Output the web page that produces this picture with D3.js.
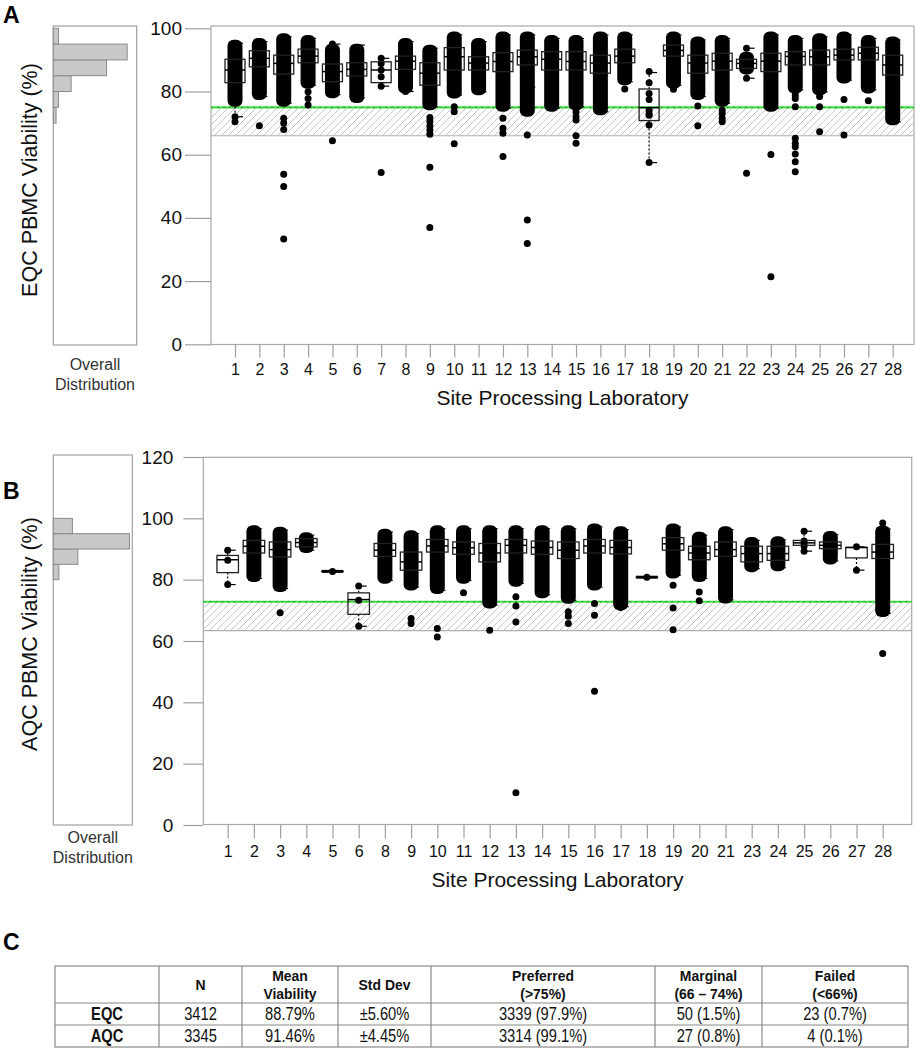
<!DOCTYPE html>
<html><head><meta charset="utf-8">
<script src="https://cdn.jsdelivr.net/npm/d3@7/dist/d3.min.js"></script>
<style>
body{margin:0;background:#fff;}
svg{display:block;font-family:"Liberation Sans",Arial,sans-serif;}
</style>
</head><body>
<svg id="chart" width="916" height="1050"></svg>
<script>
// ---------------- DATA ----------------
const labsA = [1,2,3,4,5,6,7,8,9,10,11,12,13,14,15,16,17,18,19,20,21,22,23,24,25,26,27,28];
// box stats per lab: [q1, median, q3, whiskerLow, whiskerHigh]
const boxA = [
 [82.8,86.8,90.2,72.0,95.3],[87.8,90.5,92.9,78.4,95.8],[85.5,88.9,91.5,76.3,97.3],[89.1,91.2,93.4,82.0,96.8],
 [83.1,86.3,88.7,79.0,95.0],[84.9,87.0,89.1,78.0,94.7],[82.8,86.8,89.4,81.7,90.5],[87.0,89.6,91.2,80.0,95.8],
 [82.0,85.8,89.1,75.2,93.7],[86.8,91.0,93.9,78.9,97.9],[86.8,89.0,91.0,79.9,95.8],[86.3,89.5,92.3,74.7,97.9],
 [88.4,91.0,93.1,81.4,97.9],[86.8,90.2,92.6,74.7,96.8],[86.8,89.5,92.6,75.2,96.8],[85.8,89.0,91.5,73.6,97.9],
 [89.1,91.2,93.4,83.1,97.9],[70.8,74.9,80.8,57.5,86.0],[91.2,93.0,94.7,82.0,97.9],[85.8,89.0,91.5,78.4,96.3],
 [86.8,89.6,92.1,76.3,96.8],[87.3,88.9,90.2,84.2,93.7],[86.3,89.6,92.1,74.7,97.9],[88.4,91.1,92.6,80.5,96.8],
 [88.4,91.0,93.1,79.9,97.3],[90.0,91.5,93.4,83.6,97.9],[90.0,92.1,94.0,80.5,96.8],[85.2,88.4,91.5,70.4,96.3]
];
// dense cloud of overlapping observations per lab: [low, high] (null = only individual points)
const cloudA = [
 [76.3,95.3],[78.4,95.8],[76.3,97.3],[82.0,96.8],[79.0,94.0],[77.5,94.0],null,[80.5,95.8],
 [75.2,93.7],[78.9,97.9],[79.9,95.8],[74.7,97.9],[73.1,97.9],[74.7,96.8],[75.2,96.8],[73.6,97.9],
 [83.1,97.9],null,[82.0,97.9],[78.4,96.3],[76.3,96.8],[86.5,91.5],[74.7,97.9],[80.5,96.8],
 [79.9,97.3],[83.6,97.9],[80.5,96.8],[70.4,96.3]
];
// individual observations outside the dense clouds: [lab, viability]
const pointsA = [
 [1,72.0],[1,70.4],[2,69.2],[3,71.5],[3,70.0],[3,68.0],[3,53.8],[3,49.9],[3,33.3],
 [4,79.9],[4,77.8],[4,75.7],[5,95.0],[5,64.4],
 [7,90.5],[7,88.9],[7,86.8],[7,84.7],[7,81.7],[7,54.4],[8,80.0],
 [9,71.8],[9,70.5],[9,69.1],[9,67.8],[9,66.5],[9,56.0],[9,37.0],
 [10,75.2],[10,73.6],[10,63.5],[12,71.5],[12,68.4],[12,66.8],[12,59.4],
 [13,66.2],[13,39.3],[13,31.9],[15,73.6],[15,72.0],[15,71.0],[15,66.0],[15,63.6],[17,80.8],
 [18,86.3],[18,82.8],[18,79.4],[18,77.5],[18,74.1],[18,72.9],[18,72.5],[18,69.4],[18,57.5],
 [19,80.7],[20,75.4],[20,69.2],[21,74.1],[21,73.0],[21,71.5],[21,70.4],
 [22,93.7],[22,84.2],[22,54.1],[23,60.1],[23,21.4],
 [24,78.9],[24,77.8],[24,75.2],[24,65.2],[24,63.6],[24,62.5],[24,60.2],[24,57.8],[24,54.6],
 [25,78.4],[25,75.2],[25,67.3],[26,77.5],[26,66.2],[27,77.1]
];
const histEdgesA = [70,75,80,85,90,95,100];
const histCountsA = [60,110,385,1150,1595,110];
const refA = {preferred:75, failed:66};
const yTicksA = [0,20,40,60,80,100];

const labsB = [1,2,3,4,5,6,8,9,10,11,12,13,14,15,16,17,18,19,20,21,23,24,25,26,27,28];
const boxB = [
 [82.3,86.5,87.9,78.4,89.6],[88.7,90.9,92.8,80.4,96.6],[87.4,89.8,92.3,77.1,96.1],[90.7,92.1,93.4,89.6,94.5],
 [82.7,82.7,82.7,82.7,82.7],[68.7,73.5,75.7,64.8,77.9],[87.6,89.6,91.8,79.8,95.5],[83.1,85.8,89.0,77.6,95.0],
 [89.0,91.0,93.1,76.5,96.6],[88.3,90.4,92.3,79.8,96.6],[85.8,88.7,91.8,71.7,96.6],[88.7,91.2,93.1,78.8,96.6],
 [88.3,90.5,92.6,75.1,96.6],[86.9,89.6,92.3,73.3,96.6],[88.7,91.0,93.1,77.6,97.2],[88.4,90.5,92.8,71.2,96.3],
 [80.8,80.8,80.8,80.8,80.8],[89.6,91.7,93.7,81.5,97.2],[86.5,88.7,90.9,80.4,94.5],[87.6,89.8,92.3,73.4,96.3],
 [85.8,88.5,90.9,83.6,92.8],[86.3,88.5,90.9,83.9,93.0],[91.2,92.0,92.8,89.3,95.8],[90.1,91.2,92.3,86.1,94.7],
 [87.1,90.5,90.5,83.1,90.7],[86.9,89.0,91.5,69.0,96.5]
];
const cloudB = [
 null,[80.4,96.6],[77.1,96.1],[89.8,94.3],null,null,[79.8,95.5],[77.6,95.0],
 [76.5,96.6],[79.8,96.6],[71.7,96.6],[78.8,96.6],[75.1,96.6],[73.3,96.6],[77.6,97.2],[71.2,96.3],
 null,[81.5,97.2],[80.4,94.5],[73.4,96.3],[83.6,92.8],[83.9,93.0],null,[86.1,94.7],
 null,[69.0,96.5]
];
const pointsB = [
 [1,89.6],[1,86.3],[1,78.4],[3,69.2],[5,82.7],[6,77.9],[6,73.3],[6,64.8],
 [9,67.3],[9,65.7],[10,64.1],[10,61.3],[11,75.7],[12,63.5],
 [13,74.4],[13,71.4],[13,66.2],[13,10.5],[15,69.5],[15,68.1],[15,65.7],
 [16,72.2],[16,68.4],[16,43.6],[17,70.9],[18,80.8],[19,78.2],[19,70.8],[19,63.7],
 [20,76.0],[20,73.1],[25,95.8],[25,92.6],[25,91.8],[25,91.0],[25,89.3],
 [27,90.7],[27,83.1],[28,98.5],[28,55.9]
];
const histEdgesB = [80,85,90,95,100];
const histCountsB = [150,655,2035,510];
const refB = {preferred:72.8, failed:63.4};
const yTicksB = [0,20,40,60,80,100,120];

const tableHeader = ["", "N", "Mean|Viability", "Std Dev", "Preferred|(>75%)", "Marginal|(66 \u2013 74%)", "Failed|(<66%)"];
const tableRows = [
 ["EQC","3412","88.79%","\u00b15.60%","3339 (97.9%)","50 (1.5%)","23 (0.7%)"],
 ["AQC","3345","91.46%","\u00b14.45%","3314 (99.1%)","27 (0.8%)","4 (0.1%)"]
];

// ---------------- DRAWING ----------------
const svg = d3.select("#chart");
const defs = svg.append("defs");
const pat = defs.append("pattern").attr("id","hatch").attr("patternUnits","userSpaceOnUse")
  .attr("width",7).attr("height",7);
pat.append("rect").attr("width",7).attr("height",7).attr("fill","#fff");
pat.append("path").attr("d","M-1,1 l2,-2 M0,7 l7,-7 M6,8 l2,-2")
  .attr("stroke","#b5b5b5").attr("stroke-width",0.8);

function panel(o){
  const g = svg.append("g");
  const x = d3.scalePoint().domain(o.labs).range(o.xRange);
  const y = d3.scaleLinear().domain(o.yDomain).range(o.yRange);
  const [fx0, fy0, fx1, fy1] = o.frame;

  g.append("rect").attr("x",fx0).attr("y",fy0).attr("width",fx1-fx0).attr("height",fy1-fy0)
    .attr("fill","#fff").attr("stroke","#a8a8a8").attr("stroke-width",1.2);

  g.append("rect").attr("x",fx0+1).attr("width",fx1-fx0-2)
    .attr("y",y(o.ref.preferred)).attr("height",y(o.ref.failed)-y(o.ref.preferred))
    .attr("fill","url(#hatch)");
  g.append("line").attr("x1",fx0).attr("x2",fx1).attr("y1",y(o.ref.failed)).attr("y2",y(o.ref.failed))
    .attr("stroke","#b0b0b0").attr("stroke-width",1.2);
  g.append("line").attr("x1",fx0).attr("x2",fx1).attr("y1",y(o.ref.preferred)).attr("y2",y(o.ref.preferred))
    .attr("stroke","#44dd44").attr("stroke-width",2.2);
  g.append("line").attr("x1",fx0).attr("x2",fx1).attr("y1",y(o.ref.preferred)).attr("y2",y(o.ref.preferred))
    .attr("stroke","#1a9a1a").attr("stroke-width",1).attr("stroke-dasharray","2,4");

  const ya = g.append("g").attr("transform",`translate(${fx0},0)`)
    .call(d3.axisLeft(y).tickValues(o.yTicks).tickSize(o.yTickLen).tickPadding(o.yTickPad));
  ya.select(".domain").remove();
  ya.selectAll("line").attr("stroke","#a0a0a0").attr("stroke-width",1.2);
  ya.selectAll("text").attr("font-size",19).attr("fill","#111").attr("font-family","Liberation Sans, Arial, sans-serif");

  const xa = g.append("g").attr("transform",`translate(0,${fy1})`)
    .call(d3.axisBottom(x).tickSize(o.xTickLen).tickPadding(o.xTickPad));
  xa.select(".domain").remove();
  xa.selectAll("line").attr("stroke","#a0a0a0").attr("stroke-width",1.2);
  xa.selectAll("text").attr("font-size",16).attr("fill","#111").attr("font-family","Liberation Sans, Arial, sans-serif");

  g.append("text").attr("x",(fx0+fx1)/2).attr("y",o.xTitleY).attr("text-anchor","middle")
    .attr("font-size",21).attr("fill","#111").text("Site Processing Laboratory");

  const labData = o.labs.map((l,i)=>({lab:l, box:o.box[i], cloud:o.cloud[i]}));
  const cw = 15, pr = 3.5;
  g.selectAll(".cloud").data(labData.filter(d=>d.cloud)).join("rect")
    .attr("x",d=>x(d.lab)-cw/2).attr("width",cw)
    .attr("y",d=>y(d.cloud[1])-pr).attr("height",d=>y(d.cloud[0])-y(d.cloud[1])+2*pr)
    .attr("rx",6).attr("fill","#000");

  const bw = o.boxWidth;
  labData.forEach(d=>{
    const [q1,md,q3,wl,wh] = d.box, cx = x(d.lab);
    g.append("line").attr("x1",cx).attr("x2",cx).attr("y1",y(q3)).attr("y2",y(wh))
      .attr("stroke","#000").attr("stroke-dasharray","2,2").attr("stroke-width",1.2);
    g.append("line").attr("x1",cx).attr("x2",cx).attr("y1",y(q1)).attr("y2",y(wl))
      .attr("stroke","#000").attr("stroke-dasharray","2,2").attr("stroke-width",1.2);
    [wl,wh].forEach(v=>g.append("line").attr("x1",cx).attr("x2",cx+8).attr("y1",y(v)).attr("y2",y(v))
      .attr("stroke","#000").attr("stroke-width",1.2));
  });

  g.selectAll(".pt").data(o.points).join("circle")
    .attr("cx",d=>x(d[0])).attr("cy",d=>y(d[1])).attr("r",pr).attr("fill","#000");

  labData.forEach(d=>{
    const [q1,md,q3] = d.box, cx = x(d.lab);
    g.append("rect").attr("x",cx-bw/2).attr("width",bw).attr("y",y(q3)).attr("height",Math.max(0.01,y(q1)-y(q3)))
      .attr("fill","none").attr("stroke","#222").attr("stroke-width",1.3);
    g.append("line").attr("x1",cx-bw/2).attr("x2",cx+bw/2).attr("y1",y(md)).attr("y2",y(md))
      .attr("stroke","#000").attr("stroke-width",q1===q3 ? 3 : 1.5);
  });

  const [hx0, hy0, hx1, hy1] = o.histFrame;
  g.append("rect").attr("x",hx0).attr("y",hy0).attr("width",hx1-hx0).attr("height",hy1-hy0)
    .attr("fill","#fff").attr("stroke","#a0a0a0").attr("stroke-width",1.2);
  const hxs = d3.scaleLinear().domain([0,o.histMax]).range([hx0,hx1]);
  const bins = o.histCounts.map((c,i)=>({lo:o.histEdges[i], hi:o.histEdges[i+1], c}));
  g.selectAll(".hb").data(bins).join("rect")
    .attr("x",hx0).attr("width",d=>hxs(d.c)-hx0)
    .attr("y",d=>y(d.hi)).attr("height",d=>y(d.lo)-y(d.hi))
    .attr("fill","#c8c8c8").attr("stroke","#8a8a8a").attr("stroke-width",1);
  g.append("text").attr("x",(hx0+hx1)/2).attr("y",o.histLabelY).attr("text-anchor","middle")
    .attr("font-size",16).attr("fill","#333").text("Overall");
  g.append("text").attr("x",(hx0+hx1)/2).attr("y",o.histLabelY+20).attr("text-anchor","middle")
    .attr("font-size",16).attr("fill","#333").text("Distribution");

  g.append("text").attr("transform",`translate(${o.yTitle[0]},${o.yTitle[1]}) rotate(-90)`)
    .attr("text-anchor","middle").attr("font-size",21.5).attr("fill","#111").text(o.yTitleText);

  g.append("text").attr("x",o.letter[0]).attr("y",o.letter[1]).attr("font-size",23)
    .attr("font-weight","bold").attr("fill","#000").text(o.letterText);
}

panel({
  labs:labsA, box:boxA, cloud:cloudA, points:pointsA, ref:refA, yTicks:yTicksA,
  histEdges:histEdgesA, histCounts:histCountsA, histMax:1800,
  xRange:[235,892.7], yDomain:[0,100], yRange:[344.3,28.3], frame:[211,26,914,344.5],
  yTickLen:26, yTickPad:3, xTickLen:13, xTickPad:6.5, xTitleY:405, boxWidth:20,
  histFrame:[53.3,26,136.7,345], histLabelY:370,
  yTitle:[37,180], yTitleText:"EQC PBMC Viability (%)", letter:[3,23], letterText:"A"
});
panel({
  labs:labsB, box:boxB, cloud:cloudB, points:pointsB, ref:refB, yTicks:yTicksB,
  histEdges:histEdgesB, histCounts:histCountsB, histMax:2110,
  xRange:[227.7,882.7], yDomain:[0,120], yRange:[825,457], frame:[203.3,457.3,911.7,824.5],
  yTickLen:20, yTickPad:10, xTickLen:14, xTickPad:7.5, xTitleY:887, boxWidth:21.5,
  histFrame:[53.3,455,132.3,825], histLabelY:843,
  yTitle:[37,634], yTitleText:"AQC PBMC Viability (%)", letter:[3,499], letterText:"B"
});

// ---------------- TABLE (panel C) ----------------
const tg = svg.append("g");
tg.append("text").attr("x",3).attr("y",950).attr("font-size",23).attr("font-weight","bold").text("C");
const colX = [55,159,242,338,431,655,762,908];
const rowY = [966,1003,1025,1047];
tg.append("rect").attr("x",colX[0]).attr("y",rowY[0]).attr("width",colX[7]-colX[0]).attr("height",rowY[3]-rowY[0])
  .attr("fill","#fff").attr("stroke","#8a8a8a").attr("stroke-width",1.2);
colX.slice(1,-1).forEach(cx=>tg.append("line").attr("x1",cx).attr("x2",cx).attr("y1",rowY[0]).attr("y2",rowY[3])
  .attr("stroke","#8a8a8a").attr("stroke-width",1.2));
rowY.slice(1,-1).forEach(ry=>tg.append("line").attr("x1",colX[0]).attr("x2",colX[7]).attr("y1",ry).attr("y2",ry)
  .attr("stroke","#8a8a8a").attr("stroke-width",1.2));
function cellText(cx, cy, str, bold, fs, sx){
  tg.append("text").attr("transform",`translate(${cx},${cy}) scale(${sx},1)`)
    .attr("text-anchor","middle").attr("font-size",fs).attr("font-weight",bold?"bold":"normal")
    .attr("fill","#111").text(str);
}
tableHeader.forEach((h,i)=>{
  const parts = h.split("|"); const cx=(colX[i]+colX[i+1])/2;
  const my = (rowY[0]+rowY[1])/2;
  parts.forEach((p,j)=>cellText(cx, my + (j-(parts.length-1)/2)*18 + 5.8, p, true, 15.5, 0.9));
});
tableRows.forEach((r,ri)=>{
  const my=(rowY[ri+1]+rowY[ri+2])/2;
  r.forEach((c,i)=>cellText((colX[i]+colX[i+1])/2, my+6.2, c, i===0, 17.5, 0.84));
});
</script>
</body></html>
